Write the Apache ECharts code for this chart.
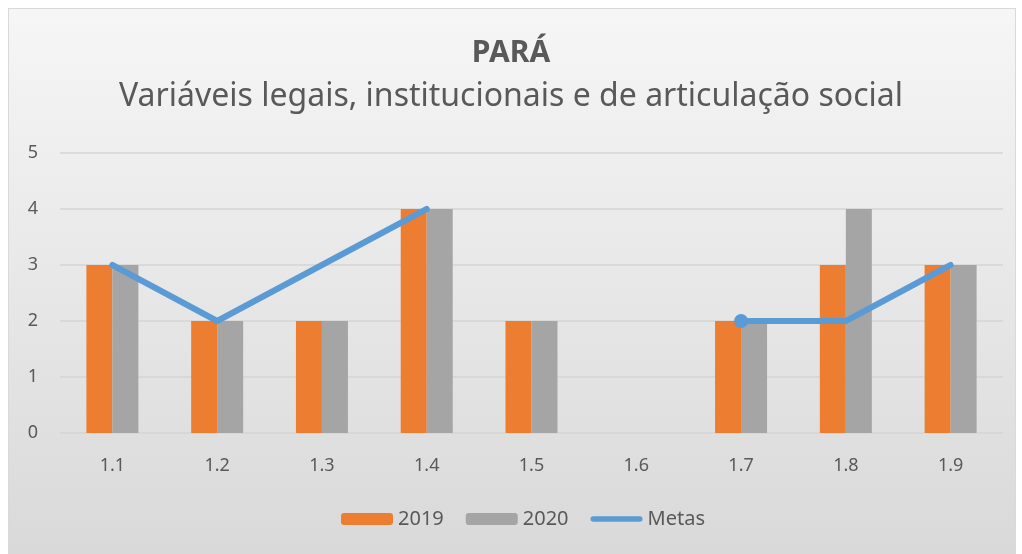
<!DOCTYPE html>
<html>
<head>
<meta charset="utf-8">
<script src="https://cdn.jsdelivr.net/npm/echarts@6/dist/echarts.min.js"></script>
<style>
  html, body { margin: 0; padding: 0; background: #fff; }
  #frame {
    position: absolute; left: 8px; top: 8px; width: 1006px; height: 546px;
    border: 1px solid #d9d9d9; border-bottom: none;
    background: linear-gradient(to bottom, #f6f6f6 0%, #d9d9d9 100%);
  }
  #chart { position: absolute; left: 0; top: 0; width: 1022px; height: 554px; }
</style>
</head>
<body>
<div id="frame"></div>
<div id="chart"></div>
<script>
const categories = ['1.1', '1.2', '1.3', '1.4', '1.5', '1.6', '1.7', '1.8', '1.9'];
const values2019 = [3, 2, 2, 4, 2, null, 2, 3, 3];
const values2020 = [3, 2, 2, 4, 2, null, 2, 4, 3];
const metas = [3, 2, 3, 4, null, null, 2, 2, 3];
const yTicks = [0, 1, 2, 3, 4, 5];

const FONT = '"Noto Sans", sans-serif';
const TEXT = '#595959';
const BLUE = '#5b9bd5';

const chart = echarts.init(document.getElementById('chart'));

// mark only the point that starts the second Metas stretch
const metasData = metas.map((v, i) =>
  i === 6 ? { value: v, symbol: 'circle', symbolSize: 14 } : v
);

chart.setOption({
  backgroundColor: 'transparent',
  textStyle: { fontFamily: FONT },
  title: [
    {
      text: 'PARÁ',
      left: 'center', top: 33,
      textStyle: { fontFamily: FONT, fontSize: 30, fontWeight: 'bold', color: TEXT }
    },
    {
      text: 'Variáveis legais, institucionais e de articulação social',
      left: 'center', top: 76,
      textStyle: { fontFamily: FONT, fontSize: 32, fontWeight: 'normal', color: TEXT }
    }
  ],
  legend: {
    bottom: 20,
    left: 336,
    itemWidth: 52,
    itemHeight: 12,
    itemGap: 22,
    textStyle: { fontFamily: FONT, fontSize: 20, color: TEXT },
    data: [
      '2019',
      '2020',
      { name: 'Metas', icon: 'path://M3,0 L54,0 A3,3 0 0 1 54,6 L3,6 A3,3 0 0 1 3,0 Z' }
    ]
  },
  grid: { left: 60, right: 19, top: 153, bottom: 121 },
  xAxis: {
    type: 'category',
    data: categories,
    axisLine: { show: false },
    axisTick: { show: false },
    axisLabel: { color: TEXT, fontSize: 18, margin: 24, fontFamily: FONT }
  },
  yAxis: {
    type: 'value',
    min: yTicks[0],
    max: yTicks[yTicks.length - 1],
    interval: 1,
    axisLine: { show: false },
    axisTick: { show: false },
    axisLabel: { color: TEXT, fontSize: 18, margin: 22, fontFamily: FONT },
    splitLine: { lineStyle: { color: '#d4d4d4', width: 1.5 } }
  },
  series: [
    {
      name: '2019', type: 'bar', data: values2019,
      barWidth: 26, barGap: '0%',
      itemStyle: { color: '#ed7d31' }
    },
    {
      name: '2020', type: 'bar', data: values2020,
      barWidth: 26,
      itemStyle: { color: '#a5a5a5' }
    },
    {
      name: 'Metas', type: 'line', data: metasData,
      symbol: 'none',
      connectNulls: false,
      lineStyle: { color: BLUE, width: 6, cap: 'round', join: 'round' },
      itemStyle: { color: BLUE },
      z: 5
    }
  ]
});
</script>
</body>
</html>
